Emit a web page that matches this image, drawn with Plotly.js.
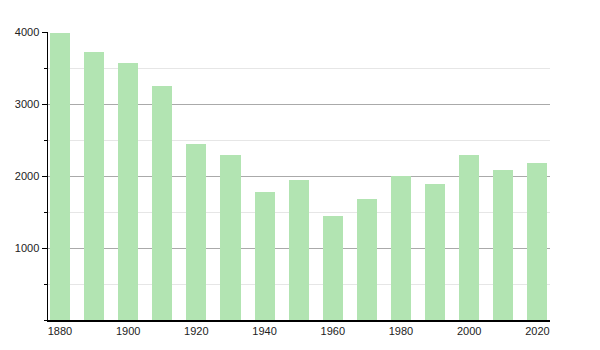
<!DOCTYPE html>
<html>
<head>
<meta charset="utf-8">
<script src="https://cdn.plot.ly/plotly-3.0.1.min.js"></script>
<style>body{margin:0;padding:0;background:#fff}#chart{width:600px;height:350px}</style>
</head>
<body>
<div id="chart"></div>
<script>
const years = [1880,1890,1900,1910,1920,1930,1940,1950,1960,1970,1980,1990,2000,2010,2020];
const population = [3990,3720,3575,3245,2440,2290,1775,1950,1440,1680,2005,1895,2285,2080,2175];
const yTicks = [1000,2000,3000,4000];

Plotly.newPlot('chart', [{
  type: 'bar',
  x: years,
  y: population,
  width: 5.9,
  marker: {color: '#b2e4b2', line: {width: 0}},
  hoverinfo: 'x+y'
}], {
  width: 600, height: 350,
  margin: {l: 48, r: 50, t: 32, b: 30, pad: 0},
  paper_bgcolor: '#fff', plot_bgcolor: '#fff',
  font: {family: 'Liberation Sans, Arial, sans-serif', size: 11, color: '#222'},
  showlegend: false,
  bargap: 0,
  xaxis: {
    range: [1876.5, 2023.7],
    tickvals: [1880,1900,1920,1940,1960,1980,2000,2020],
    ticktext: ['1880','1900','1920','1940','1960','1980','2000','2020'],
    showgrid: false, zeroline: false,
    showline: true, linecolor: '#000', linewidth: 1.5,
    ticks: '', fixedrange: true
  },
  yaxis: {
    range: [0, 4000],
    tickvals: yTicks,
    ticktext: yTicks.map(String),
    showgrid: true, gridcolor: '#aaaaaa', gridwidth: 1,
    zeroline: false,
    showline: true, linecolor: '#000', linewidth: 1.5,
    ticks: 'outside', ticklen: 5, tickcolor: '#000',
    minor: {dtick: 500, tick0: 0, showgrid: true, gridcolor: '#e6e6e6', ticks: 'outside', ticklen: 3, tickcolor: '#000'},
    fixedrange: true
  }
}, {displayModeBar: false, staticPlot: true});
</script>
</body>
</html>
